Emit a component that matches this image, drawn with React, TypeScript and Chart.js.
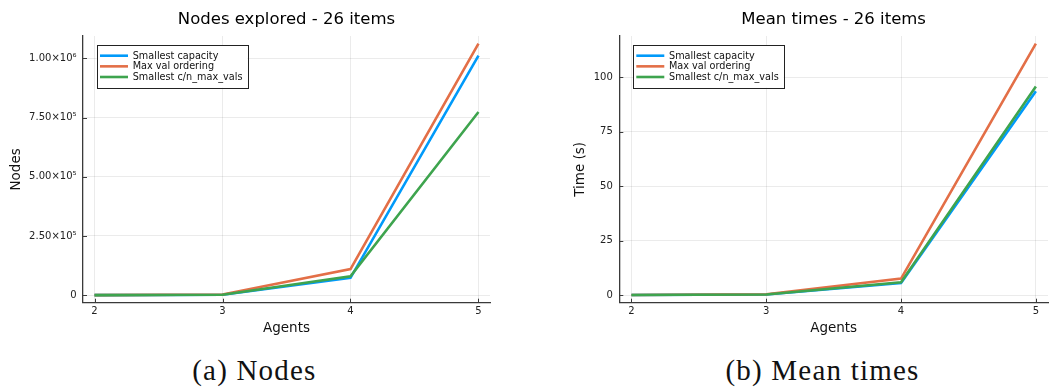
import React, { useEffect, useRef } from 'react';
import { Chart, registerables } from 'chart.js';

Chart.register(...registerables);

// ---------- data ----------
const agents = [2, 3, 4, 5];
const seriesLabels = ['Smallest capacity', 'Max val ordering', 'Smallest c/n_max_vals'];
const seriesColors = ['#009AFA', '#E36F47', '#3EA44E'];

const nodesSmallestCapacity = [150, 1800, 73000, 1012000];
const nodesMaxValOrdering = [200, 2600, 110000, 1063000];
const nodesSmallestCN = [150, 1800, 80000, 774000];

const timesSmallestCapacity = [0.05, 0.3, 5.6, 93.5];
const timesMaxValOrdering = [0.05, 0.4, 7.6, 115.3];
const timesSmallestCN = [0.05, 0.3, 5.9, 95.7];

const xTicks = [2, 3, 4, 5];
const nodesTicks = [0, 250000, 500000, 750000, 1000000];
const nodesTickLabels = ['0', '2.50×10⁵', '5.00×10⁵', '7.50×10⁵', '1.00×10⁶'];
const timesTicks = [0, 25, 50, 75, 100];
const timesTickLabels = ['0', '25', '50', '75', '100'];

const FONT = '"DejaVu Sans", sans-serif';
const AXIS_COLOR = '#3a3a3a';
const GRID_COLOR = 'rgba(0,0,0,0.08)';

const framePlugin = {
  id: 'frame',
  afterDraw(chart: any, _args: any, opts: any) {
    const ctx = chart.ctx as CanvasRenderingContext2D;
    const ca = chart.chartArea;
    const xs = chart.scales.x;
    const ys = chart.scales.y;
    ctx.save();
    // inward tick marks
    ctx.strokeStyle = AXIS_COLOR;
    ctx.lineWidth = 1;
    xs.ticks.forEach((t: any) => {
      const px = Math.round(xs.getPixelForValue(t.value)) + 0.5;
      ctx.beginPath();
      ctx.moveTo(px, ca.bottom);
      ctx.lineTo(px, ca.bottom - 4);
      ctx.stroke();
    });
    ys.ticks.forEach((t: any) => {
      const py = Math.round(ys.getPixelForValue(t.value)) + 0.5;
      ctx.beginPath();
      ctx.moveTo(ca.left, py);
      ctx.lineTo(ca.left + 4, py);
      ctx.stroke();
    });
    // title
    ctx.fillStyle = '#000';
    ctx.font = `16.5px ${FONT}`;
    ctx.textAlign = 'center';
    ctx.textBaseline = 'middle';
    ctx.fillText(opts.title, (ca.left + ca.right) / 2, 20);
    // legend
    ctx.font = `9.7px ${FONT}`;
    const ds = chart.data.datasets;
    const textW = Math.max(...ds.map((d: any) => ctx.measureText(d.label).width));
    const bx = ca.left + 13.7;
    const by = ca.top + 9;
    const bw = 36 + textW + 5;
    const bh = 42.7;
    ctx.fillStyle = '#fff';
    ctx.fillRect(bx, by, bw, bh);
    ctx.strokeStyle = '#222';
    ctx.lineWidth = 1;
    ctx.strokeRect(Math.round(bx) + 0.5, Math.round(by) + 0.5, Math.round(bw), Math.round(bh));
    ds.forEach((d: any, i: number) => {
      const y = by + 10.7 + i * 10.65;
      ctx.strokeStyle = d.borderColor;
      ctx.lineWidth = 2.6;
      ctx.beginPath();
      ctx.moveTo(bx + 3.3, y);
      ctx.lineTo(bx + 31.3, y);
      ctx.stroke();
      ctx.fillStyle = '#111';
      ctx.textAlign = 'left';
      ctx.textBaseline = 'middle';
      ctx.fillText(d.label, bx + 36, y + 0.5);
    });
    ctx.restore();
  },
};

interface Cfg {
  title: string;
  yTitle: string;
  series: number[][];
  yTicks: number[];
  yTickLabels: string[];
  yMin: number;
  yMax: number;
  yAxisWidth: number;
  yTitlePad: number;
  padRight: number;
}

function makeConfig(c: Cfg): any {
  return {
    type: 'line',
    data: {
      datasets: c.series.map((vals, i) => ({
        label: seriesLabels[i],
        data: agents.map((a, j) => ({ x: a, y: vals[j] })),
        borderColor: seriesColors[i],
        backgroundColor: seriesColors[i],
        borderWidth: 2.6,
        pointRadius: 0,
        tension: 0,
        order: 3 - i,
        borderJoinStyle: 'miter',
      })),
    },
    options: {
      responsive: false,
      animation: false,
      devicePixelRatio: 1,
      events: [],
      layout: { padding: { top: 36, right: c.padRight, left: 0, bottom: 0 }, autoPadding: false },
      plugins: {
        legend: { display: false },
        title: { display: false },
        tooltip: { enabled: false },
        frame: { title: c.title },
      },
      scales: {
        x: {
          type: 'linear',
          min: 1.91,
          max: 5.09,
          afterBuildTicks: (s: any) => {
            s.ticks = xTicks.map((v) => ({ value: v }));
          },
          afterFit: (s: any) => {
            s.height = 42.3;
          },
          grid: { color: GRID_COLOR, drawTicks: false, lineWidth: 1 },
          border: { display: true, color: AXIS_COLOR, width: 1.3 },
          ticks: {
            font: { family: FONT, size: 10 },
            color: '#222',
            padding: 2.5,
            maxRotation: 0,
            callback: (v: any) => String(v),
          },
          title: {
            display: true,
            text: 'Agents',
            font: { family: FONT, size: 13.5 },
            color: '#111',
            padding: { top: 0, bottom: 8.2 },
          },
        },
        y: {
          type: 'linear',
          min: c.yMin,
          max: c.yMax,
          afterBuildTicks: (s: any) => {
            s.ticks = c.yTicks.map((v) => ({ value: v }));
          },
          afterFit: (s: any) => {
            s.width = c.yAxisWidth;
          },
          grid: { color: GRID_COLOR, drawTicks: false, lineWidth: 1 },
          border: { display: true, color: AXIS_COLOR, width: 1.3 },
          ticks: {
            font: { family: FONT, size: 10 },
            color: '#222',
            padding: 6.5,
            callback: (v: any) => {
              const k = c.yTicks.indexOf(v);
              return k >= 0 ? c.yTickLabels[k] : '';
            },
          },
          title: {
            display: true,
            text: c.yTitle,
            font: { family: FONT, size: 13.5 },
            color: '#111',
            padding: { top: c.yTitlePad, bottom: 0 },
          },
        },
      },
    },
    plugins: [framePlugin],
  };
}

function ChartCanvas({ cfg, left, width, height }: { cfg: Cfg; left: number; width: number; height: number }) {
  const ref = useRef<HTMLCanvasElement>(null);
  useEffect(() => {
    const chart = new Chart(ref.current!, makeConfig(cfg));
    return () => chart.destroy();
  }, []);
  return (
    <canvas
      ref={ref}
      width={width}
      height={height}
      style={{ position: 'absolute', left, top: 0, width, height }}
    />
  );
}

const captionStyle: React.CSSProperties = {
  position: 'absolute',
  top: 356,
  width: 300,
  textAlign: 'center',
  fontFamily: '"Liberation Serif", "Times New Roman", serif',
  fontSize: 29,
  lineHeight: '29px',
  letterSpacing: '1.2px',
  color: '#111',
  whiteSpace: 'nowrap',
};

export default function App() {
  return (
    <div
      style={{
        position: 'fixed',
        left: 0,
        top: 0,
        width: 1049,
        height: 388,
        background: '#fff',
        overflow: 'hidden',
      }}
    >
      <ChartCanvas
        left={0}
        width={505}
        height={345}
        cfg={{
          title: 'Nodes explored - 26 items',
          yTitle: 'Nodes',
          series: [nodesSmallestCapacity, nodesMaxValOrdering, nodesSmallestCN],
          yTicks: nodesTicks,
          yTickLabels: nodesTickLabels,
          yMin: -32000,
          yMax: 1095000,
          yAxisWidth: 83,
          yTitlePad: 8.6,
          padRight: 15,
        }}
      />
      <ChartCanvas
        left={530}
        width={519}
        height={345}
        cfg={{
          title: 'Mean times - 26 items',
          yTitle: 'Time (s)',
          series: [timesSmallestCapacity, timesMaxValOrdering, timesSmallestCN],
          yTicks: timesTicks,
          yTickLabels: timesTickLabels,
          yMin: -3.46,
          yMax: 118.8,
          yAxisWidth: 89.3,
          yTitlePad: 42.6,
          padRight: 1,
        }}
      />
      <div style={{ ...captionStyle, left: 254.4 - 150 }}>(a) Nodes</div>
      <div style={{ ...captionStyle, left: 822.5 - 150 }}>(b) Mean times</div>
    </div>
  );
}
